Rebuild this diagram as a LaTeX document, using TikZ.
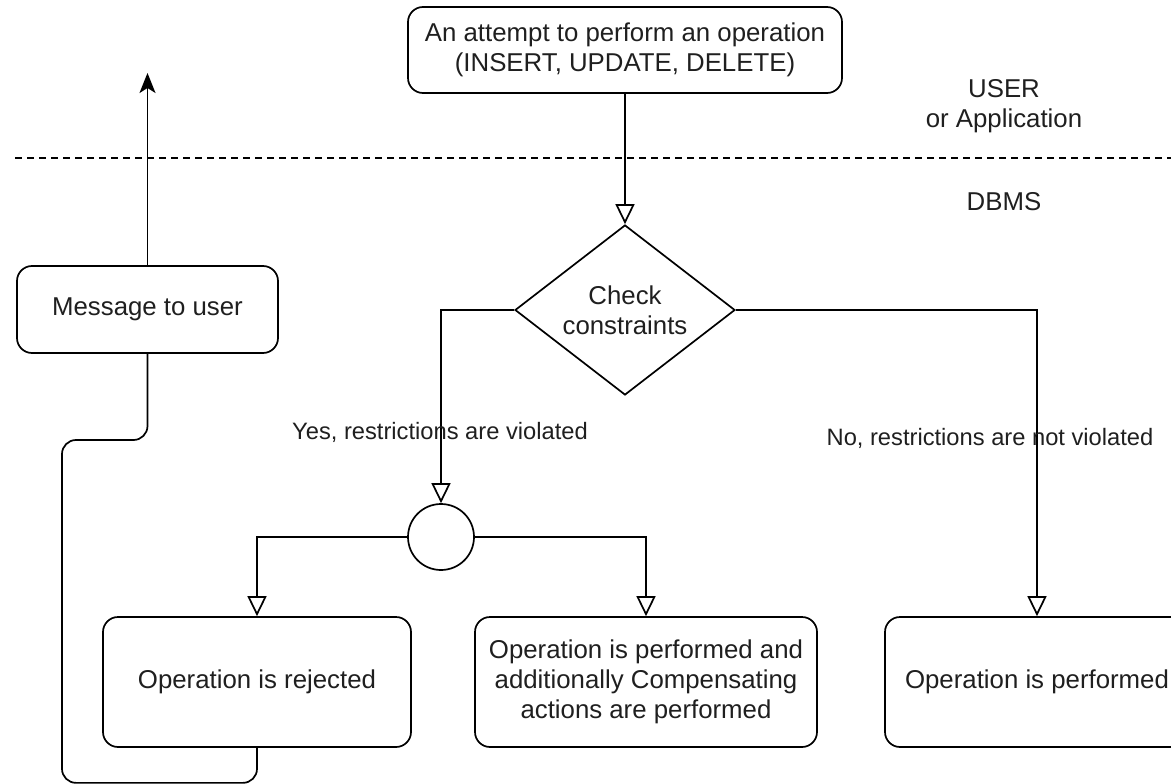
\documentclass[tikz,border=0pt]{standalone}
\usepackage{fontspec}
\setmainfont{Liberation Sans}
\usetikzlibrary{arrows.meta,shapes.geometric}
\definecolor{txt}{HTML}{1F1F1F}
\begin{document}
\begin{tikzpicture}[x=1pt,y=-1pt,
  basefont/.style={font=\fontsize{25.8}{30}\selectfont, text=txt},
  box/.style={basefont, draw, rounded corners=15pt, line width=1.7pt, align=center, inner sep=0pt},
  decision/.style={basefont, diamond, draw, line width=1.7pt, aspect=1.294, minimum width=220pt, minimum height=170pt, inner sep=0pt, align=center},
  junction/.style={draw, circle, line width=1.7pt, minimum size=66pt, inner sep=0pt},
  lbl/.style={basefont, align=center, inner sep=0pt},
  edgelbl/.style={font=\fontsize{23.7}{28}\selectfont, text=txt, inner sep=0pt},
  flow/.style={line width=1.7pt, -{Triangle[open, width=19pt, length=20pt, line width=1.7pt]}},
  plain/.style={line width=1.7pt},
  sep/.style={line width=1.5pt, dash pattern=on 7pt off 5pt}
]
\useasboundingbox (0,0) rectangle (1171,784);

% swimlane separator
\coordinate (dl) at (15,158);
\coordinate (dr) at (1171,158);
\draw[sep] (dl) -- (dr);

% nodes
\node[box, minimum width=434pt, minimum height=86pt] (op) at (625,50) {An attempt to perform an operation\\(INSERT, UPDATE, DELETE)};
\node[box, minimum width=261pt, minimum height=87pt] (msg) at (147.5,309.5) {Message to user};
\node[decision] (chk) at (625,310) {Check\\constraints};
\node[junction] (j) at (441,537) {};
\node[box, minimum width=308pt, minimum height=130pt] (rej) at (257,682) {Operation is rejected};
\node[box, minimum width=342pt, minimum height=130pt] (comp) at (646,682) {Operation is performed and\\additionally Compensating\\actions are performed};
\node[box, minimum width=304pt, minimum height=130pt] (perf) at (1037,682) {Operation is performed};

% labels
\node[lbl] (user) at (1004,106) {USER\\or Application};
\node[lbl] (dbms) at (1004,202) {DBMS};

% connectors
\draw[flow] (op.south) -- (chk.north);
\draw[flow] (chk.west) -| (j.north);
\draw[flow] (j.west) -| (rej.north);
\draw[flow] (j.east) -| (comp.north);
\draw[flow] (chk.east) -| (perf.north);
\coordinate (msgtip) at (147.5,73);
\draw[plain, -{Stealth[width=16pt, length=20pt, inset=5pt]}] (msg.north) -- (msgtip);
\coordinate (loopA) at (62,440);
\draw[plain, rounded corners=14pt] (rej.south) -- ++(0,35) -| (loopA) -| (msg.south);

\node[edgelbl] (yes) at (440,432) {Yes, restrictions are violated};
\node[edgelbl] (no) at (990,438) {No, restrictions are not violated};
\end{tikzpicture}
\end{document}
